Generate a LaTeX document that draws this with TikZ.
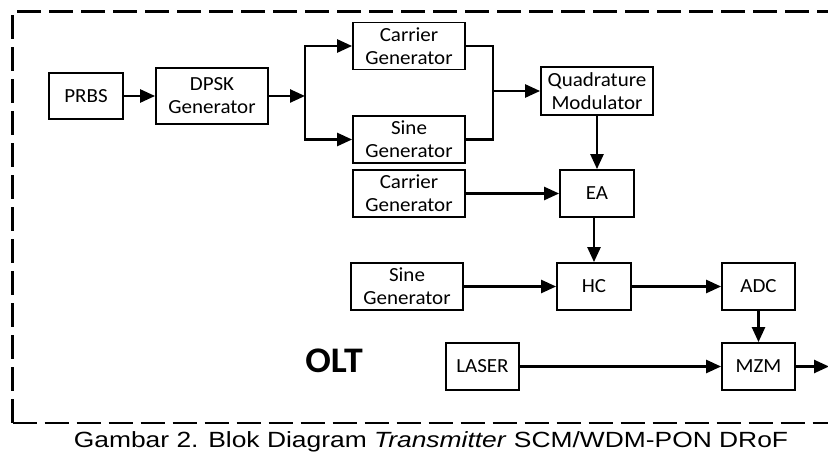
\documentclass[tikz,border=0pt]{standalone}
\usepackage{fontspec}
\setmainfont[FakeStretch=1.05]{Carlito}
\newfontfamily\capfont[FakeStretch=1.2]{Liberation Sans}
\usetikzlibrary{arrows.meta}

\begin{document}
\begin{tikzpicture}[x=1pt,y=-1pt,
  blk/.style={draw, line width=1.8pt, minimum height=47pt, inner sep=0pt, align=center, font=\fontsize{20}{23}\selectfont},
  arr/.style={line width=2.5pt, -{Triangle[length=15pt,width=13pt]}}]
  \useasboundingbox (0,0) rectangle (828,462);
  % OLT frame
  \draw[line width=2.5pt, dash pattern=on 24pt off 8pt] (12.5,423) -- (12.5,11.7) -- (870,11.7);
  \draw[line width=2.5pt, dash pattern=on 24pt off 8pt] (12.5,423) -- (870,423);
  % data source
  \node[blk, minimum width=74pt, minimum height=46pt] (prbs) at (86,96) {PRBS};
  \node[blk, minimum width=112pt, minimum height=56pt] (dpsk) at (212,96) {DPSK\\Generator};
  \coordinate (split) at (305,96);
  % I/Q branch
  \node[blk, minimum width=112pt] (carrierA) at (409,46) {Carrier\\Generator};
  \node[blk, minimum width=112pt] (sineA) at (409,139.5) {Sine\\Generator};
  \coordinate (merge) at (493,91);
  \node[blk, minimum width=112pt, minimum height=48pt] (quad) at (597,91) {Quadrature\\Modulator};
  % electrical chain
  \node[blk, minimum width=112pt] (carrierB) at (409,193.5) {Carrier\\Generator};
  \node[blk, minimum width=74pt] (ea) at (597,193.5) {EA};
  \node[blk, minimum width=112pt] (sineB) at (407,286.5) {Sine\\Generator};
  \node[blk, minimum width=74pt] (hc) at (594,286.5) {HC};
  \node[blk, minimum width=73pt] (adc) at (758.5,286.5) {ADC};
  % optical part
  \node[blk, minimum width=73pt] (laser) at (482.5,366.5) {LASER};
  \node[blk, minimum width=73pt] (mzm) at (758.5,366.5) {MZM};
  \coordinate (out) at (829,366.5);
  \node[anchor=base, font=\bfseries\fontsize{36}{40}\selectfont] (olt) at (334,373) {OLT};
  % connectors
  \draw[arr] (prbs) -- (dpsk);
  \draw[arr] (dpsk) -- (split);
  \draw[arr] (split) |- (carrierA.west);
  \draw[arr] (split) |- (sineA.west);
  \draw[line width=2.5pt] (carrierA.east) -| (merge);
  \draw[line width=2.5pt] (sineA.east) -| (merge);
  \draw[arr] (merge) -- (quad.west);
  \draw[arr] (quad) -- (ea);
  \draw[arr] (carrierB) -- (ea);
  \draw[arr] (hc.north |- ea.south) -- (hc.north);
  \draw[arr] (sineB) -- (hc);
  \draw[arr] (hc) -- (adc);
  \draw[arr] (adc) -- (mzm);
  \draw[arr] (laser) -- (mzm);
  \draw[arr] (mzm) -- (out);
  % caption
  \node[anchor=base, font=\capfont\fontsize{22}{26}\selectfont] (caption) at (431,448) {Gambar 2. Blok Diagram \textit{Transmitter} SCM/WDM-PON DRoF};
\end{tikzpicture}
\end{document}
